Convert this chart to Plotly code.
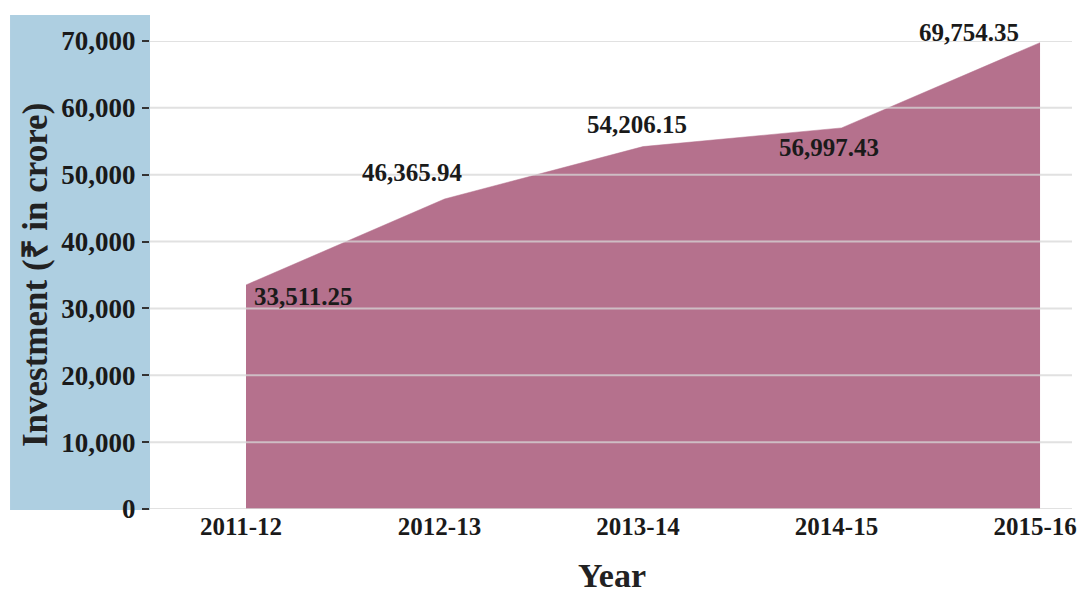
import plotly.graph_objects as go

years = ["2011-12", "2012-13", "2013-14", "2014-15", "2015-16"]
investment = [33511.25, 46365.94, 54206.15, 56997.43, 69754.35]
label_text = ["33,511.25", "46,365.94", "54,206.15", "56,997.43", "69,754.35"]
y_ticks = [0, 10000, 20000, 30000, 40000, 50000, 60000, 70000]
y_tick_text = ["0", "10,000", "20,000", "30,000", "40,000", "50,000", "60,000", "70,000"]

# label offsets (pixels) relative to each point
label_dx = [57, -32, -6, -13, -71]
label_dy = [-12, 27, 22, -20, 10]

FONT = "Liberation Serif"
fill_col = "#b5718d"

fig = go.Figure()
fig.add_trace(go.Scatter(
    x=years, y=investment, mode="lines", fill="tozeroy",
    fillcolor=fill_col, line=dict(color=fill_col, width=0.5),
    hoverinfo="skip", showlegend=False,
))

shapes = [
    dict(type="rect", xref="paper", yref="paper", x0=-0.1518, x1=0, y0=-0.002, y1=1.0556,
         fillcolor="#aecfe1", line=dict(width=0), layer="below"),
]
for v in y_ticks:
    shapes.append(dict(type="line", xref="paper", yref="y", x0=0, x1=1, y0=v, y1=v,
                       line=dict(color="rgba(215,215,215,0.75)", width=2), layer="above"))

annotations = []
for yr, val, txt, dx, dy in zip(years, investment, label_text, label_dx, label_dy):
    annotations.append(dict(x=yr, y=val, xref="x", yref="y", text=f"<b>{txt}</b>", showarrow=False,
                            xshift=dx, yshift=dy,
                            font=dict(family=FONT, size=25, color="#1a1a1a")))
annotations.append(dict(x=-0.1247, y=0.5, xref="paper", yref="paper", xanchor="center", yanchor="middle",
                        text="<b>Investment (₹ in crore)</b>", textangle=-90, showarrow=False,
                        font=dict(family=FONT, size=35, color="#222222")))
annotations.append(dict(x=0.501, y=-0.142, xref="paper", yref="paper", xanchor="center", yanchor="middle",
                        text="<b>Year</b>", showarrow=False,
                        font=dict(family=FONT, size=34, color="#222222")))

fig.update_layout(
    width=1080, height=594,
    margin=dict(l=150, r=8, t=41, b=85),
    paper_bgcolor="white", plot_bgcolor="white",
    font=dict(family=FONT, color="#1a1a1a"),
    shapes=shapes, annotations=annotations,
    xaxis=dict(type="category", range=[-0.4836, 4.161], showgrid=False, zeroline=False,
               showline=False, ticks="", automargin=False,
               tickfont=dict(family=FONT, size=25, color="#1a1a1a"),
               ticklabelstandoff=0, ticklabelshift=-5),
    yaxis=dict(range=[0, 70000], tickvals=y_ticks, ticktext=[f"<b>{t}</b>" for t in y_tick_text],
               showgrid=False, zeroline=False, showline=False, automargin=False,
               ticks="outside", ticklen=7, tickwidth=2, tickcolor="#333333",
               tickfont=dict(family=FONT, size=27, color="#1a1a1a"), ticklabelstandoff=1),
)
fig.update_xaxes(ticktext=[f"<b>{y}</b>" for y in years], tickvals=years)

fig.write_html("out.html", config={"displayModeBar": False},
               post_script="document.body.style.margin='0';document.body.style.overflow='hidden';")
